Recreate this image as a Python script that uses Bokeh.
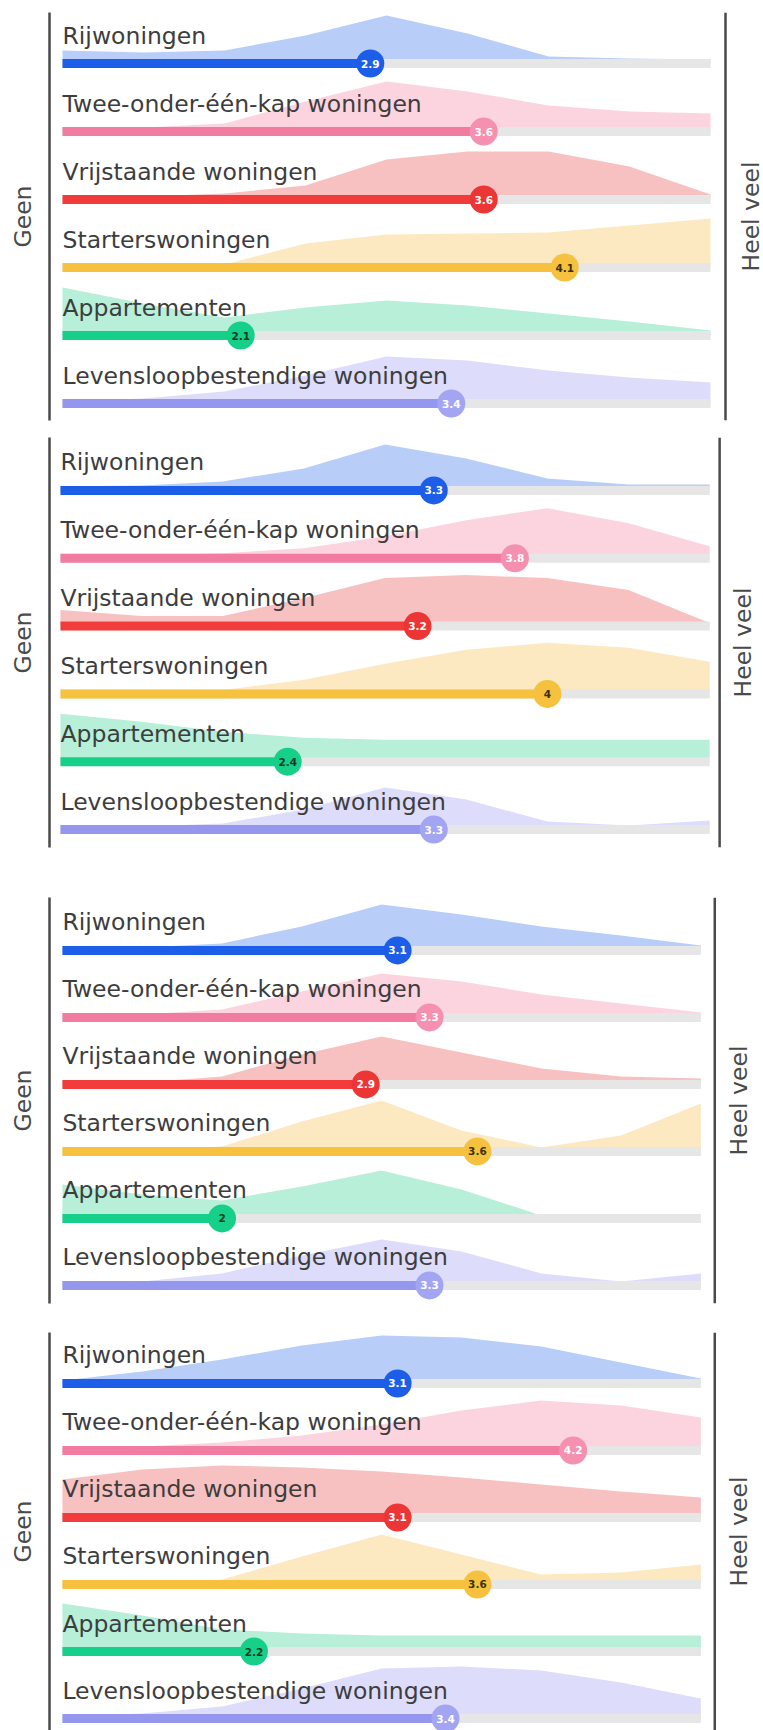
import math
from bokeh.plotting import figure
from bokeh.models import Range1d, LinearAxis, FixedTicker, Span
from bokeh.layouts import column
from bokeh.embed import file_html
from bokeh.resources import INLINE
from bokeh.core.properties import value

# ---------------- data ----------------
CATEGORIES = [
    "Rijwoningen",
    "Twee-onder-één-kap woningen",
    "Vrijstaande woningen",
    "Starterswoningen",
    "Appartementen",
    "Levensloopbestendige woningen",
]
SCALE_LOW = "Geen"
SCALE_HIGH = "Heel veel"
SCALE_MIN = 1
SCALE_MAX = 5

# positions on the 1..5 scale where the distribution heights were read
GRID = [1, 1.5, 2, 2.5, 3, 3.5, 4, 4.5, 5]

MEANS_1 = [2.9, 3.6, 3.6, 4.1, 2.1, 3.4]
MEANS_2 = [3.3, 3.8, 3.2, 4.0, 2.4, 3.3]
MEANS_3 = [3.1, 3.3, 2.9, 3.6, 2.0, 3.3]
MEANS_4 = [3.1, 4.2, 3.1, 3.6, 2.2, 3.4]

# relative distribution heights (per category, read at GRID)
DENS_1 = [
    [13, 11, 13, 28, 48, 30, 7, 5, 4],
    [3, 4, 8, 30, 50, 40, 26, 20, 18],
    [2, 3, 6, 14, 40, 48, 48, 33, 5],
    [0, 0, 3, 24, 33, 34, 35, 42, 49],
    [48, 32, 18, 28, 35, 30, 22, 14, 5],
    [2, 5, 12, 28, 47, 43, 33, 26, 21],
]
DENS_2 = [
    [4, 5, 9, 22, 46, 32, 12, 6, 6],
    [3, 3, 5, 10, 22, 38, 50, 35, 12],
    [16, 10, 10, 28, 48, 51, 48, 36, 3],
    [0, 1, 4, 14, 30, 44, 51, 46, 32],
    [48, 40, 30, 24, 22, 22, 22, 22, 22],
    [2, 3, 6, 20, 42, 30, 8, 4, 9],
]
DENS_3 = [
    [2, 3, 7, 24, 46, 36, 24, 15, 5],
    [2, 3, 8, 26, 44, 36, 23, 14, 5],
    [0, 2, 8, 30, 48, 32, 16, 8, 6],
    [0, 1, 5, 30, 51, 21, 4, 16, 48],
    [34, 24, 18, 32, 48, 29, 3, 0, 0],
    [2, 4, 12, 30, 46, 34, 12, 4, 12],
]
DENS_4 = [
    [3, 12, 24, 38, 48, 46, 37, 21, 5],
    [2, 4, 8, 15, 26, 40, 50, 45, 33],
    [38, 48, 52, 50, 46, 40, 33, 26, 20],
    [0, 0, 5, 28, 50, 30, 10, 12, 20],
    [48, 36, 22, 18, 16, 16, 16, 16, 16],
    [2, 5, 12, 30, 50, 52, 48, 36, 20],
]

# ---------------- style ----------------
BAR_COLORS = ["#1d5ee8", "#f27ba1", "#f23b3b", "#f5c13f", "#16cf88", "#9597ee"]
DOT_COLORS = ["#1d5ee8", "#f590b1", "#ec3535", "#f5c13f", "#16cf88", "#a3a5f3"]
AREA_COLORS = ["#b8cef8", "#fbd4df", "#f8c1c1", "#fde9c1", "#b7efd9", "#dddcfa"]
VALUE_TEXT_COLORS = ["#ffffff", "#ffffff", "#ffffff", "#3a3000", "#0d3a26", "#ffffff"]
TRACK_COLOR = "#e6e6e6"
LABEL_COLOR = "#3d3d3d"
AXIS_COLOR = "#4a4a4a"
FONT = "DejaVu Sans"
LABEL_SIZE = "23.5px"

FIG_W = 763
# pixel geometry of each panel (page pixels): left line, bar start, pixels per
# scale unit, right line, right label centre; vertical: figure height, borders
PANELS = [
    dict(means=MEANS_1, dens=DENS_1, h=428, bt=12, bb=8,
         left_px=49, start_px=62, ppu=162.0, right_px=725, label_px=750,
         yr=(5.25, -0.75), step=68.0),
    dict(means=MEANS_2, dens=DENS_2, h=444, bt=9, bb=25,
         left_px=47, start_px=58, ppu=162.75, right_px=719, label_px=742,
         yr=(5.265, -0.78), step=67.8),
    dict(means=MEANS_3, dens=DENS_3, h=444, bt=25, bb=13,
         left_px=45, start_px=58, ppu=160.5, right_px=714, label_px=738,
         yr=(5.27, -0.79), step=67.0),
    dict(means=MEANS_4, dens=DENS_4, h=414, bt=16, bb=0,
         left_px=45, start_px=58, ppu=160.5, right_px=714, label_px=738,
         yr=(5.179, -0.761), step=67.0),
]


def fmt(v):
    return f"{v:g}"


def make_panel(cfg):
    def px2x(px):
        return SCALE_MIN + (px - cfg["start_px"]) / cfg["ppu"]

    xr = (px2x(cfg["left_px"]), px2x(FIG_W))
    p = figure(width=FIG_W, height=cfg["h"], output_backend="svg",
               toolbar_location=None, x_axis_type=None, y_axis_type=None,
               x_range=Range1d(*xr), y_range=Range1d(*cfg["yr"]),
               min_border_left=cfg["left_px"], min_border_right=0,
               min_border_top=cfg["bt"], min_border_bottom=cfg["bb"])
    p.outline_line_color = None
    p.background_fill_color = "white"
    p.border_fill_color = "white"

    ax = LinearAxis(ticker=FixedTicker(ticks=[]), axis_label=SCALE_LOW)
    ax.axis_line_color = AXIS_COLOR
    ax.axis_line_width = 2.5
    ax.major_tick_line_color = None
    ax.minor_tick_line_color = None
    ax.major_tick_out = 0
    ax.major_tick_in = 0
    ax.axis_label_text_font = FONT
    ax.axis_label_text_font_size = LABEL_SIZE
    ax.axis_label_text_font_style = "normal"
    ax.axis_label_text_color = AXIS_COLOR
    ax.axis_label_standoff = 13
    p.add_layout(ax, "left")

    p.add_layout(Span(location=px2x(cfg["right_px"]), dimension="height",
                      line_color=AXIS_COLOR, line_width=2.5))
    p.text(x=[px2x(cfg["label_px"])], y=[(cfg["yr"][0] + cfg["yr"][1]) / 2],
           text=[SCALE_HIGH], angle=math.pi / 2, text_align="center",
           text_baseline="middle", text_font=value(FONT),
           text_font_size=LABEL_SIZE, text_color=AXIS_COLOR)

    step = cfg["step"]
    for i, cat in enumerate(CATEGORIES):
        row = i
        dens = cfg["dens"][i]
        p.varea(x=GRID, y1=[row] * len(GRID), y2=[row - d / step for d in dens],
                fill_color=AREA_COLORS[i])
        p.segment(x0=[SCALE_MIN], y0=[row], x1=[SCALE_MAX], y1=[row],
                  line_color=TRACK_COLOR, line_width=9, line_cap="butt")
        m = cfg["means"][i]
        p.segment(x0=[SCALE_MIN], y0=[row], x1=[m], y1=[row],
                  line_color=BAR_COLORS[i], line_width=9, line_cap="butt")
        p.scatter(x=[m], y=[row], size=28, marker="circle",
                  fill_color=DOT_COLORS[i], line_color=None)
        p.text(x=[m], y=[row], text=[fmt(m)], text_align="center",
               text_baseline="middle", text_font=value(FONT),
               text_font_size="10.5px", text_font_style="bold",
               text_color=VALUE_TEXT_COLORS[i])
        p.text(x=[SCALE_MIN], y=[row - 28 / step], text=[cat], text_align="left",
               text_baseline="alphabetic", text_font=value(FONT),
               text_font_size=LABEL_SIZE, text_color=LABEL_COLOR)
    return p


layout = column(*[make_panel(c) for c in PANELS], spacing=0)
open("out.html", "w").write(file_html(layout, INLINE))
